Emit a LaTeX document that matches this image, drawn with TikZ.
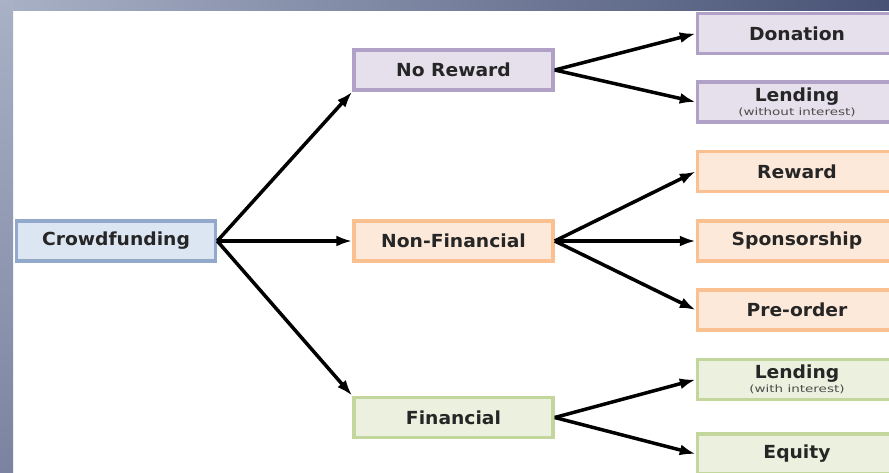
\documentclass[tikz,border=0pt]{standalone}
\usepackage{fontspec}
\setmainfont{DejaVu Sans}[FakeStretch=1.04]
\newfontfamily\subfont{DejaVu Sans}[FakeStretch=1.35]
\usetikzlibrary{arrows.meta}
\definecolor{rootfill}{HTML}{DCE6F2}
\definecolor{rootdraw}{HTML}{93A9CB}
\definecolor{purplefill}{HTML}{E5E0EC}
\definecolor{purpledraw}{HTML}{B2A1C7}
\definecolor{orangefill}{HTML}{FDE9D9}
\definecolor{orangedraw}{HTML}{FAC090}
\definecolor{greenfill}{HTML}{EBF1DE}
\definecolor{greendraw}{HTML}{C3D69B}
\definecolor{bandlight}{HTML}{A9B1C6}
\definecolor{banddark}{HTML}{475275}
\definecolor{bandmid}{HTML}{7B83A0}
\newcommand{\sublabel}[1]{{\subfont\mdseries\fontsize{10}{10}\selectfont\color{black!70}#1}}
\begin{document}
\begin{tikzpicture}[x=1pt, y=-1pt, line width=3.5pt, every node/.style = {shape=rectangle, draw, align=center, inner sep=0pt, minimum width=199pt, minimum height=40pt, font=\bfseries\fontsize{18}{15}\selectfont, text=black!85}]
	\tikzstyle{root} = [fill=rootfill, draw=rootdraw]
	\tikzstyle{noreward} = [fill=purplefill, draw=purpledraw]
	\tikzstyle{nonfin} = [fill=orangefill, draw=orangedraw]
	\tikzstyle{fin} = [fill=greenfill, draw=greendraw]
	\tikzstyle{link} = [black, line width=3.5pt, -{Latex[length=16pt, width=11pt]}]
	\clip (0,0) rectangle (889,472);
	\fill[white] (0,0) rectangle (889,472);
	\shade[left color=bandlight, right color=banddark] (0,0) rectangle (889,10);
	\shade[top color=bandlight, bottom color=bandmid] (0,0) rectangle (13,472);
	\node[root] (cf) at (116,241) {Crowdfunding};
	\node[noreward] (nr) at (453.5,70) {No Reward};
	\node[nonfin] (nf) at (453.5,241) {Non-Financial};
	\node[fin] (fin) at (453.5,417.5) {Financial};
	\node[noreward] (don) at (797,33.5) {Donation};
	\node[noreward] (lnd) at (797,102) {Lending\\[-1pt]\sublabel{(without interest)}};
	\node[nonfin] (rew) at (797,171.5) {Reward};
	\node[nonfin] (spo) at (797,241) {Sponsorship};
	\node[nonfin] (pre) at (797,310) {Pre-order};
	\node[fin] (lnw) at (797,379.5) {Lending\\[-1pt]\sublabel{(with interest)}};
	\node[fin] (equ) at (797,454) {Equity};
	\draw[link] (cf.east) -- (nr.south west);
	\draw[link] (cf.east) -- (nf.west);
	\draw[link] (cf.east) -- (fin.north west);
	\foreach \c in {don, lnd} \draw[link] (nr.east) -- (\c.west);
	\foreach \c in {rew, spo, pre} \draw[link] (nf.east) -- (\c.west);
	\foreach \c in {lnw, equ} \draw[link] (fin.east) -- (\c.west);
\end{tikzpicture}
\end{document}
